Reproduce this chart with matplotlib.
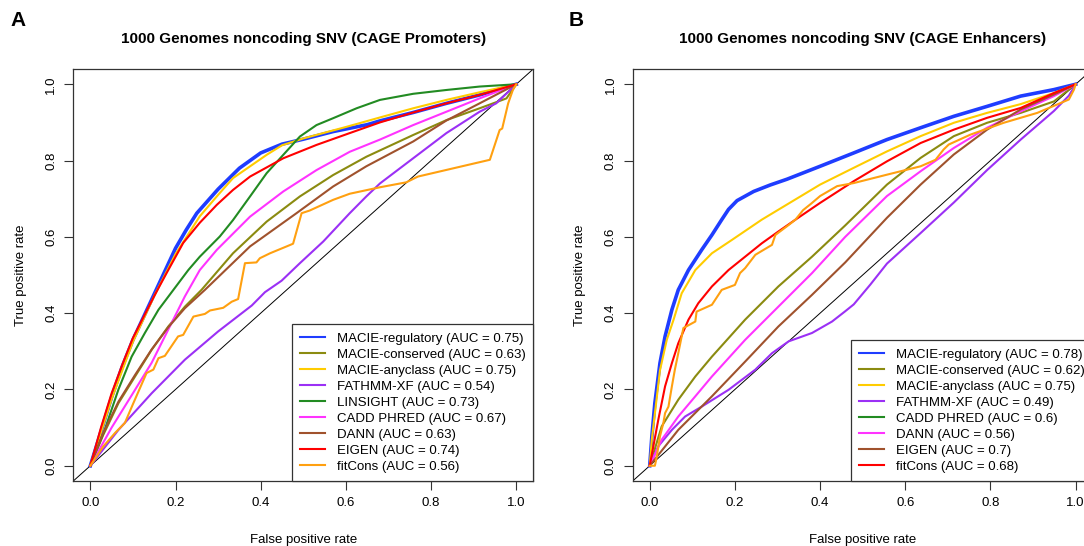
import matplotlib
matplotlib.use("Agg")
import matplotlib.pyplot as plt
from matplotlib.lines import Line2D

plt.rcParams['font.family'] = ['Liberation Sans', 'DejaVu Sans']

# ---- Panel A: CAGE promoters ----
prom_regulatory_fpr = [0, 0.025, 0.05, 0.075, 0.1, 0.125, 0.15, 0.175, 0.2, 0.225, 0.25, 0.3, 0.35, 0.4,
                       0.45, 0.5, 0.57, 0.65, 0.68, 0.758, 0.836, 0.914, 1.0]
prom_regulatory_tpr = [0, 0.09, 0.18, 0.26, 0.33, 0.39, 0.45, 0.51, 0.57, 0.618, 0.662, 0.725, 0.78, 0.82,
                       0.843, 0.856, 0.876, 0.894, 0.904, 0.926, 0.95, 0.972, 1.0]

prom_conserved_fpr = [0, 0.03, 0.066, 0.105, 0.144, 0.183, 0.222, 0.261, 0.335, 0.414, 0.492, 0.57, 0.648,
                      0.758, 0.836, 0.914, 0.953, 0.977, 1.0]
prom_conserved_tpr = [0, 0.08, 0.164, 0.234, 0.304, 0.365, 0.417, 0.461, 0.557, 0.64, 0.706, 0.762, 0.81,
                      0.867, 0.906, 0.937, 0.953, 0.963, 1.0]

prom_anyclass_fpr = [0, 0.025, 0.05, 0.1, 0.15, 0.2, 0.257, 0.3, 0.335, 0.414, 0.45, 0.5, 0.6, 0.68, 0.758,
                     0.836, 0.914, 1.0]
prom_anyclass_tpr = [0, 0.088, 0.175, 0.325, 0.445, 0.555, 0.654, 0.71, 0.754, 0.815, 0.84, 0.858, 0.888,
                     0.913, 0.937, 0.959, 0.979, 1.0]

prom_fathmm_fpr = [0, 0.066, 0.144, 0.222, 0.30, 0.379, 0.41, 0.449, 0.492, 0.547, 0.609, 0.648, 0.68,
                   0.758, 0.836, 0.914, 0.953, 1.0]
prom_fathmm_tpr = [0, 0.094, 0.19, 0.278, 0.352, 0.42, 0.455, 0.485, 0.531, 0.588, 0.662, 0.706, 0.74,
                   0.806, 0.872, 0.928, 0.95, 1.0]

prom_linsight_fpr = [0, 0.034, 0.066, 0.097, 0.128, 0.16, 0.195, 0.23, 0.257, 0.304, 0.335, 0.375, 0.414,
                     0.453, 0.492, 0.531, 0.57, 0.625, 0.68, 0.758, 0.836, 0.914, 1.0]
prom_linsight_tpr = [0, 0.095, 0.2, 0.286, 0.348, 0.409, 0.461, 0.513, 0.548, 0.601, 0.644, 0.706, 0.767,
                     0.815, 0.863, 0.893, 0.911, 0.937, 0.959, 0.975, 0.985, 0.994, 1.0]

prom_cadd_fpr = [0, 0.05, 0.1, 0.144, 0.183, 0.222, 0.257, 0.297, 0.375, 0.453, 0.531, 0.609, 0.68, 0.758,
                 0.836, 0.914, 1.0]
prom_cadd_tpr = [0, 0.10, 0.19, 0.27, 0.357, 0.444, 0.513, 0.566, 0.653, 0.719, 0.775, 0.823, 0.855, 0.893,
                 0.928, 0.963, 1.0]

prom_dann_fpr = [0, 0.03, 0.066, 0.105, 0.144, 0.183, 0.222, 0.269, 0.375, 0.484, 0.57, 0.648, 0.758,
                 0.836, 0.914, 1.0]
prom_dann_tpr = [0, 0.085, 0.168, 0.238, 0.305, 0.363, 0.413, 0.461, 0.575, 0.662, 0.732, 0.785, 0.85,
                 0.905, 0.95, 1.0]

prom_eigen_fpr = [0, 0.025, 0.05, 0.075, 0.1, 0.15, 0.179, 0.218, 0.257, 0.297, 0.335, 0.375, 0.453, 0.531,
                  0.609, 0.68, 0.758, 0.836, 0.914, 1.0]
prom_eigen_tpr = [0, 0.10, 0.19, 0.265, 0.335, 0.445, 0.505, 0.584, 0.637, 0.684, 0.723, 0.758, 0.806, 0.841,
                  0.872, 0.9, 0.926, 0.95, 0.972, 1.0]

prom_fitcons_fpr = [0, 0.03, 0.058, 0.081, 0.101, 0.132, 0.148, 0.16, 0.175, 0.206, 0.218, 0.242, 0.269,
                    0.281, 0.312, 0.332, 0.347, 0.363, 0.39, 0.398, 0.422, 0.461, 0.476, 0.496, 0.515,
                    0.57, 0.609, 0.68, 0.742, 0.769, 0.938, 0.961, 0.967, 0.981, 0.992, 1.0]
prom_fitcons_tpr = [0, 0.05, 0.086, 0.112, 0.164, 0.243, 0.252, 0.282, 0.288, 0.339, 0.343, 0.391, 0.398,
                    0.407, 0.414, 0.43, 0.437, 0.531, 0.533, 0.544, 0.557, 0.575, 0.582, 0.662, 0.669,
                    0.697, 0.713, 0.73, 0.743, 0.758, 0.802, 0.88, 0.884, 0.95, 0.985, 1.0]

prom_labels = ["MACIE-regulatory (AUC = 0.75)", "MACIE-conserved (AUC = 0.63)",
               "MACIE-anyclass (AUC = 0.75)", "FATHMM-XF (AUC = 0.54)", "LINSIGHT (AUC = 0.73)",
               "CADD PHRED (AUC = 0.67)", "DANN (AUC = 0.63)", "EIGEN (AUC = 0.74)",
               "fitCons (AUC = 0.56)"]

# ---- Panel B: CAGE enhancers ----
enh_regulatory_fpr = [0, 0.005, 0.012, 0.024, 0.036, 0.052, 0.067, 0.091, 0.122, 0.146, 0.169, 0.185,
                      0.205, 0.244, 0.283, 0.322, 0.4, 0.479, 0.557, 0.636, 0.714, 0.792, 0.871, 0.949, 1.0]
enh_regulatory_tpr = [0, 0.077, 0.164, 0.269, 0.339, 0.409, 0.461, 0.513, 0.566, 0.605, 0.645, 0.672,
                      0.695, 0.719, 0.736, 0.751, 0.785, 0.82, 0.855, 0.886, 0.916, 0.942, 0.969, 0.986, 1.0]

enh_conserved_fpr = [0, 0.028, 0.067, 0.107, 0.146, 0.224, 0.302, 0.381, 0.459, 0.557, 0.636, 0.714, 0.792,
                     0.871, 0.949, 1.0]
enh_conserved_tpr = [0, 0.103, 0.173, 0.234, 0.286, 0.383, 0.47, 0.548, 0.63, 0.737, 0.807, 0.864, 0.899,
                     0.925, 0.955, 1.0]

enh_anyclass_fpr = [0, 0.005, 0.024, 0.04, 0.056, 0.075, 0.107, 0.146, 0.193, 0.263, 0.4, 0.479, 0.557,
                    0.636, 0.714, 0.792, 0.871, 0.949, 1.0]
enh_anyclass_tpr = [0, 0.07, 0.25, 0.33, 0.383, 0.452, 0.513, 0.557, 0.592, 0.645, 0.737, 0.781, 0.824,
                    0.864, 0.899, 0.925, 0.948, 0.977, 1.0]

enh_fathmm_fpr = [0, 0.02, 0.052, 0.083, 0.122, 0.185, 0.248, 0.287, 0.326, 0.381, 0.428, 0.459, 0.479,
                  0.518, 0.557, 0.636, 0.714, 0.792, 0.871, 0.949, 0.984, 1.0]
enh_fathmm_tpr = [0, 0.051, 0.094, 0.129, 0.155, 0.199, 0.252, 0.295, 0.326, 0.348, 0.378, 0.405, 0.423,
                  0.475, 0.53, 0.61, 0.69, 0.775, 0.855, 0.93, 0.97, 1.0]

enh_dann_fpr = [0, 0.028, 0.067, 0.107, 0.146, 0.224, 0.302, 0.381, 0.459, 0.557, 0.636, 0.714, 0.792,
                0.871, 0.949, 1.0]
enh_dann_tpr = [0, 0.068, 0.129, 0.182, 0.234, 0.33, 0.417, 0.505, 0.6, 0.707, 0.772, 0.833, 0.886,
                0.929, 0.969, 1.0]

enh_eigen_fpr = [0, 0.067, 0.146, 0.224, 0.302, 0.381, 0.459, 0.557, 0.636, 0.714, 0.792, 0.871, 0.949, 1.0]
enh_eigen_tpr = [0, 0.094, 0.182, 0.273, 0.365, 0.448, 0.533, 0.65, 0.737, 0.816, 0.881, 0.934, 0.973, 1.0]

enh_fitcons_fpr = [0, 0.0085, 0.02, 0.036, 0.052, 0.067, 0.091, 0.114, 0.146, 0.185, 0.224, 0.263, 0.302,
                   0.342, 0.4, 0.479, 0.557, 0.636, 0.714, 0.792, 0.871, 0.949, 1.0]
enh_fitcons_tpr = [0, 0.051, 0.12, 0.208, 0.269, 0.321, 0.383, 0.426, 0.47, 0.513, 0.548, 0.583, 0.614,
                   0.645, 0.689, 0.746, 0.798, 0.846, 0.881, 0.912, 0.938, 0.977, 1.0]

enh_cadd_fpr = [0, 0.012, 0.016, 0.024, 0.032, 0.036, 0.044, 0.052, 0.059, 0.067, 0.079, 0.107, 0.11,
                0.146, 0.169, 0.2, 0.212, 0.224, 0.248, 0.287, 0.295, 0.326, 0.342, 0.36, 0.38, 0.4,
                0.44, 0.479, 0.557, 0.636, 0.671, 0.69, 0.702, 0.753, 0.831, 0.91, 0.965, 0.984, 0.996, 1.0]
enh_cadd_tpr = [0, 0.0, 0.02, 0.077, 0.112, 0.138, 0.155, 0.208, 0.252, 0.295, 0.361, 0.378, 0.404,
                0.422, 0.461, 0.474, 0.505, 0.518, 0.553, 0.579, 0.605, 0.631, 0.645, 0.67, 0.688, 0.707,
                0.733, 0.741, 0.763, 0.785, 0.802, 0.829, 0.842, 0.868, 0.899, 0.925, 0.951, 0.96, 0.986, 1.0]

enh_labels = ["MACIE-regulatory (AUC = 0.78)", "MACIE-conserved (AUC = 0.62)",
              "MACIE-anyclass (AUC = 0.75)", "FATHMM-XF (AUC = 0.49)", "CADD PHRED (AUC = 0.6)",
              "DANN (AUC = 0.56)", "EIGEN (AUC = 0.7)", "fitCons (AUC = 0.68)"]

BLUE = '#1f3dff'
OLIVE = '#8b8b10'
GOLD = '#ffcc00'
PURPLE = '#9b30f5'
GREEN = '#228b22'
MAGENTA = '#ff33ff'
BROWN = '#a0522d'
RED = '#ff0000'
ORANGE = '#ffa010'

prom_curves = [
    (prom_regulatory_fpr, prom_regulatory_tpr, BLUE, 2.6),
    (prom_conserved_fpr, prom_conserved_tpr, OLIVE, 1.5),
    (prom_anyclass_fpr, prom_anyclass_tpr, GOLD, 1.5),
    (prom_fathmm_fpr, prom_fathmm_tpr, PURPLE, 1.5),
    (prom_linsight_fpr, prom_linsight_tpr, GREEN, 1.5),
    (prom_cadd_fpr, prom_cadd_tpr, MAGENTA, 1.5),
    (prom_dann_fpr, prom_dann_tpr, BROWN, 1.5),
    (prom_eigen_fpr, prom_eigen_tpr, RED, 1.5),
    (prom_fitcons_fpr, prom_fitcons_tpr, ORANGE, 1.5),
]
prom_legend_colors = [BLUE, OLIVE, GOLD, PURPLE, GREEN, MAGENTA, BROWN, RED, ORANGE]

# the plotted colours in B do not follow the legend colours (kept as in the figure)
enh_curves = [
    (enh_regulatory_fpr, enh_regulatory_tpr, BLUE, 2.6),
    (enh_conserved_fpr, enh_conserved_tpr, OLIVE, 1.5),
    (enh_anyclass_fpr, enh_anyclass_tpr, GOLD, 1.5),
    (enh_fathmm_fpr, enh_fathmm_tpr, PURPLE, 1.5),
    (enh_dann_fpr, enh_dann_tpr, MAGENTA, 1.5),
    (enh_eigen_fpr, enh_eigen_tpr, BROWN, 1.5),
    (enh_fitcons_fpr, enh_fitcons_tpr, RED, 1.5),
    (enh_cadd_fpr, enh_cadd_tpr, ORANGE, 1.5),
]
enh_legend_colors = [BLUE, OLIVE, GOLD, PURPLE, GREEN, MAGENTA, BROWN, RED]

ticks = [0, 0.2, 0.4, 0.6, 0.8, 1.0]
tick_labels = ["0.0", "0.2", "0.4", "0.6", "0.8", "1.0"]


def draw_panel(ax, curves, labels, legend_colors, title):
    ax.axline((0, 0), (1, 1), color='black', lw=0.7, zorder=1)
    for fpr, tpr, color, lw in curves:
        ax.plot(fpr, tpr, color=color, lw=lw, zorder=2)

    ax.set_xlim(-0.04, 1.04)
    ax.set_ylim(-0.04, 1.04)
    ax.set_xticks(ticks)
    ax.set_xticklabels(tick_labels)
    ax.set_yticks(ticks)
    ax.set_yticklabels(tick_labels, rotation=90, va='center')
    ax.tick_params(direction='out', length=6.5, width=0.8, labelsize=9.5, color='#333333', pad=5)
    for sp in ax.spines.values():
        sp.set_color('#333333')
        sp.set_linewidth(0.9)

    ax.set_xlabel("False positive rate", fontsize=9.5, labelpad=17.7)
    ax.set_ylabel("True positive rate", fontsize=9.5, labelpad=13.4)
    ax.set_title(title, fontsize=11, fontweight='bold', pad=18.5)

    handles = [Line2D([], [], color=c, lw=1.5) for c in legend_colors]
    leg = ax.legend(handles, labels, loc='lower right', bbox_to_anchor=(1, 0),
                    borderaxespad=0, fontsize=9.5, fancybox=False, framealpha=1,
                    edgecolor='#333333', handlelength=1.9, handletextpad=0.9,
                    labelspacing=0.29, borderpad=0.6)
    leg.get_frame().set_linewidth(0.9)
    leg.set_zorder(5)


fig = plt.figure(figsize=(10.84, 5.46), dpi=100)
ax_a = fig.add_axes([73.3 / 1084, 65 / 546, 460 / 1084, 412 / 546])
ax_b = fig.add_axes([632.7 / 1084, 65 / 546, 460 / 1084, 412 / 546])

draw_panel(ax_a, prom_curves, prom_labels, prom_legend_colors,
           "1000 Genomes noncoding SNV (CAGE Promoters)")
draw_panel(ax_b, enh_curves, enh_labels, enh_legend_colors,
           "1000 Genomes noncoding SNV (CAGE Enhancers)")

fig.text(10 / 1084, 1 - 21 / 546, "A", fontsize=15, fontweight='bold', va='center', ha='left')
fig.text(569 / 1084, 1 - 21 / 546, "B", fontsize=15, fontweight='bold', va='center', ha='left')

fig.savefig("out.png", dpi=100)
